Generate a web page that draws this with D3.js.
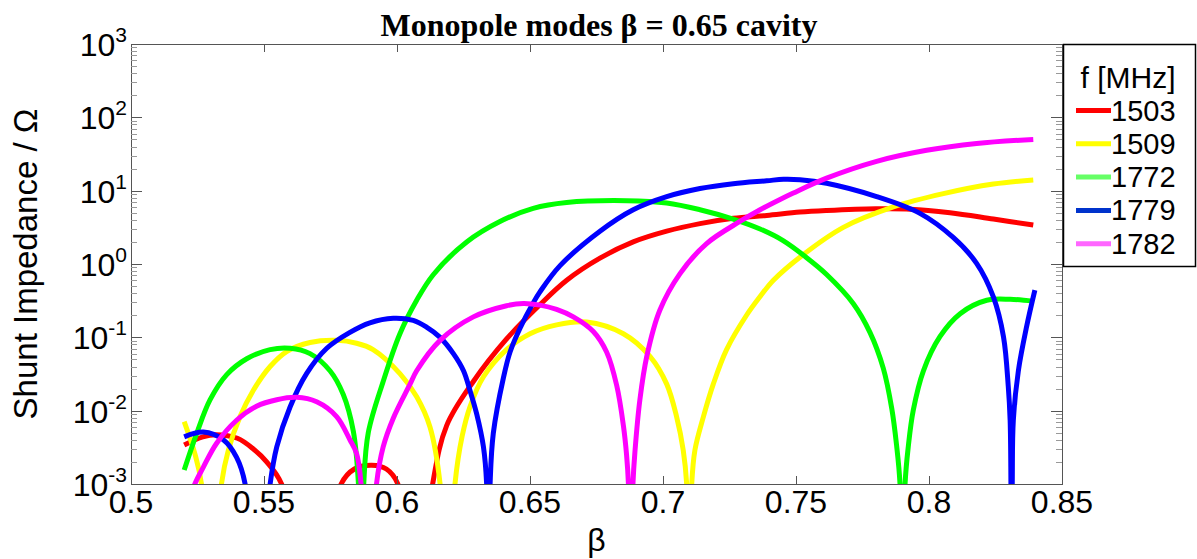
<!DOCTYPE html>
<html>
<head>
<meta charset="utf-8">
<script src="https://cdn.jsdelivr.net/npm/d3@7"></script>
<style>
  body { margin: 0; background: #fff; }
  svg { display: block; }
  text { font-family: "Liberation Sans", Arial, sans-serif; fill: #000; }
</style>
</head>
<body>
<svg id="chart" width="1197" height="559"></svg>
<script>
// Shunt impedance of the monopole modes vs. particle velocity β
const xTicks = [0.5, 0.55, 0.6, 0.65, 0.7, 0.75, 0.8, 0.85];
const xTickLabels = ["0.5", "0.55", "0.6", "0.65", "0.7", "0.75", "0.8", "0.85"];
const yExponents = [-3, -2, -1, 0, 1, 2, 3];

const frequencies = ["1503", "1509", "1772", "1779", "1782"];
const lineColors = ["#ff0000", "#ffff00", "#00ff00", "#0000ff", "#ff00ff"];
const legendColors = ["#ff0000", "#ffff00", "#66ff66", "#0033cc", "#ff66ff"];

// 1503 MHz
const beta1503 = [0.520, 0.527, 0.532, 0.540, 0.546, 0.551, 0.5566, 0.568, 0.579, 0.584, 0.5905, 0.596, 0.6003, 0.607, 0.6134, 0.6187, 0.6287, 0.6412, 0.6538, 0.6638, 0.6763, 0.6888, 0.7014, 0.7139, 0.7264, 0.739, 0.7515, 0.7615, 0.780, 0.793, 0.8079, 0.8242, 0.8392];
const r1503 = [0.0034, 0.0044, 0.0047, 0.0042, 0.0030, 0.0020, 0.0010, 0.00001, 0.0010, 0.0016, 0.0018, 0.0016, 0.0010, 0.00001, 0.0010, 0.0063, 0.025, 0.095, 0.28, 0.60, 1.20, 2.0, 2.8, 3.55, 4.2, 4.6, 5.1, 5.35, 5.65, 5.6, 5.0, 4.1, 3.4];

// 1509 MHz
const beta1509 = [0.520, 0.524, 0.5265, 0.530, 0.534, 0.5366, 0.541, 0.546, 0.5523, 0.5585, 0.5673, 0.5773, 0.5848, 0.591, 0.6011, 0.6074, 0.6124, 0.6162, 0.619, 0.6218, 0.6245, 0.6274, 0.6325, 0.6412, 0.650, 0.660, 0.6713, 0.6851, 0.6951, 0.7014, 0.7051, 0.7076, 0.7089, 0.7098, 0.7108, 0.712, 0.7152, 0.7189, 0.7239, 0.7314, 0.7365, 0.7415, 0.7528, 0.7678, 0.7866, 0.8054, 0.8242, 0.8392];
const r1509 = [0.0071, 0.0026, 0.0010, 0.00001, 0.0010, 0.0029, 0.0083, 0.019, 0.040, 0.064, 0.085, 0.091, 0.083, 0.068, 0.032, 0.0155, 0.0060, 0.0010, 0.00001, 0.0010, 0.0045, 0.0112, 0.029, 0.068, 0.112, 0.148, 0.162, 0.112, 0.055, 0.023, 0.0083, 0.0029, 0.0010, 0.00001, 0.0010, 0.0029, 0.0083, 0.023, 0.068, 0.20, 0.36, 0.60, 1.35, 3.16, 6.0, 9.1, 12.3, 14.0];

// 1772 MHz
const beta1772 = [0.520, 0.5247, 0.5297, 0.536, 0.5435, 0.5523, 0.5598, 0.5673, 0.5748, 0.5798, 0.5836, 0.5855, 0.5865, 0.5875, 0.5892, 0.5948, 0.6011, 0.6074, 0.6137, 0.6262, 0.6387, 0.6512, 0.6638, 0.6863, 0.7014, 0.7139, 0.7264, 0.7365, 0.745, 0.7535, 0.7615, 0.7715, 0.7778, 0.7828, 0.786, 0.7878, 0.7891, 0.790, 0.791, 0.7922, 0.7941, 0.7979, 0.8041, 0.8117, 0.8217, 0.8305, 0.8392];
const r1772 = [0.00155, 0.0049, 0.014, 0.031, 0.051, 0.068, 0.071, 0.060, 0.035, 0.0166, 0.0052, 0.0010, 0.00001, 0.0010, 0.0050, 0.025, 0.112, 0.32, 0.72, 2.0, 3.8, 5.75, 6.9, 7.3, 6.8, 5.5, 4.1, 3.0, 2.1, 1.26, 0.72, 0.29, 0.117, 0.038, 0.0107, 0.0034, 0.0010, 0.00001, 0.0010, 0.0032, 0.0102, 0.035, 0.102, 0.21, 0.32, 0.33, 0.31];

// 1779 MHz
const beta1779 = [0.520, 0.5272, 0.5347, 0.5397, 0.5429, 0.547, 0.5523, 0.5548, 0.5598, 0.566, 0.5736, 0.5823, 0.5898, 0.5986, 0.6061, 0.6111, 0.6162, 0.6212, 0.625, 0.6274, 0.630, 0.6325, 0.6337, 0.6343, 0.635, 0.6362, 0.640, 0.6425, 0.6462, 0.6512, 0.6538, 0.6613, 0.6763, 0.6888, 0.7014, 0.7139, 0.7264, 0.739, 0.7453, 0.7515, 0.7615, 0.7803, 0.7966, 0.8091, 0.8179, 0.8242, 0.828, 0.8298, 0.8305, 0.8308, 0.831, 0.8313, 0.8317, 0.8336, 0.8367, 0.8398];
const r1779 = [0.0044, 0.0051, 0.0040, 0.0023, 0.0010, 0.00001, 0.0010, 0.0032, 0.0112, 0.032, 0.071, 0.117, 0.158, 0.182, 0.170, 0.138, 0.100, 0.060, 0.035, 0.019, 0.0089, 0.0032, 0.0010, 0.00001, 0.0010, 0.0049, 0.028, 0.063, 0.132, 0.295, 0.42, 0.95, 2.8, 5.5, 8.3, 10.7, 12.45, 13.65, 14.3, 14.1, 12.6, 8.3, 4.9, 2.3, 1.02, 0.355, 0.102, 0.0214, 0.0074, 0.0010, 0.00001, 0.0010, 0.0074, 0.035, 0.14, 0.44];

// 1782 MHz
const beta1782 = [0.520, 0.524, 0.5272, 0.5322, 0.5397, 0.5472, 0.5548, 0.5623, 0.5698, 0.5773, 0.5823, 0.5848, 0.5865, 0.589, 0.5923, 0.5948, 0.5986, 0.6049, 0.6074, 0.6162, 0.6287, 0.6412, 0.6475, 0.6538, 0.660, 0.6663, 0.6738, 0.6788, 0.6826, 0.6851, 0.6863, 0.687, 0.6878, 0.6887, 0.6895, 0.6913, 0.6939, 0.6988, 0.7064, 0.7164, 0.7289, 0.7365, 0.744, 0.749, 0.7615, 0.7803, 0.7991, 0.8179, 0.8392];
const r1782 = [0.0004, 0.0010, 0.0017, 0.0036, 0.0074, 0.0115, 0.0141, 0.0152, 0.0132, 0.0083, 0.0040, 0.0026, 0.0010, 0.00001, 0.0010, 0.0032, 0.0079, 0.023, 0.035, 0.091, 0.19, 0.27, 0.29, 0.275, 0.24, 0.19, 0.12, 0.063, 0.022, 0.0063, 0.0025, 0.0010, 0.00001, 0.0010, 0.0029, 0.014, 0.055, 0.234, 0.74, 1.9, 3.8, 5.5, 7.6, 9.3, 14.8, 25.1, 35.5, 44, 50];

const betas = [beta1503, beta1509, beta1772, beta1779, beta1782];
const impedances = [r1503, r1509, r1772, r1779, r1782];

const plot = { left: 131, right: 1062, top: 44, bottom: 484 };
const svg = d3.select("#chart");

const x = d3.scaleLinear().domain([0.5, 0.85]).range([plot.left, plot.right]);
const y = d3.scaleLog().domain([1e-3, 1e3]).range([plot.bottom, plot.top]);

svg.append("rect").attr("width", 1197).attr("height", 559).attr("fill", "#fff");

svg.append("defs").append("clipPath").attr("id", "plotClip")
  .append("rect")
  .attr("x", plot.left).attr("y", plot.top)
  .attr("width", plot.right - plot.left).attr("height", plot.bottom - plot.top);

// curves (values below the axis floor are clipped away)
const line = d3.line()
  .x(d => x(d[0]))
  .y(d => y(d[1]))
  .curve(d3.curveCatmullRom.alpha(0.5));

const curves = svg.append("g").attr("clip-path", "url(#plotClip)");
frequencies.forEach((f, i) => {
  const pts = betas[i].map((b, k) => [b, impedances[i][k]]);
  curves.append("path")
    .datum(pts)
    .attr("d", line)
    .attr("fill", "none")
    .attr("stroke", lineColors[i])
    .attr("stroke-width", 5)
    .attr("stroke-linejoin", "round");
});

// axes box and ticks
const axisColor = "#555";
const minorColor = "#999";
const axes = svg.append("g").attr("shape-rendering", "crispEdges");

axes.append("rect")
  .attr("x", plot.left).attr("y", plot.top)
  .attr("width", plot.right - plot.left).attr("height", plot.bottom - plot.top)
  .attr("fill", "none").attr("stroke", axisColor).attr("stroke-width", 1);

xTicks.forEach(t => {
  const px = Math.round(x(t));
  axes.append("line").attr("x1", px).attr("x2", px)
    .attr("y1", plot.bottom).attr("y2", plot.bottom - 8).attr("stroke", axisColor);
  axes.append("line").attr("x1", px).attr("x2", px)
    .attr("y1", plot.top).attr("y2", plot.top + 8).attr("stroke", axisColor);
});

yExponents.forEach(e => {
  const py = Math.round(y(Math.pow(10, e)));
  [[plot.left, 1], [plot.right, -1]].forEach(([ax, dir]) => {
    axes.append("line").attr("x1", ax).attr("x2", ax + dir * 11)
      .attr("y1", py).attr("y2", py).attr("stroke", axisColor);
  });
  if (e < 3) {
    for (let m = 2; m <= 9; m++) {
      const my = Math.round(y(m * Math.pow(10, e)));
      [[plot.left, 1], [plot.right, -1]].forEach(([ax, dir]) => {
        axes.append("line").attr("x1", ax).attr("x2", ax + dir * 6)
          .attr("y1", my).attr("y2", my).attr("stroke", minorColor);
      });
    }
  }
});

// tick labels
xTicks.forEach((t, i) => {
  svg.append("text")
    .attr("x", x(t)).attr("y", 513)
    .attr("text-anchor", "middle")
    .style("font-size", "32px")
    .text(xTickLabels[i]);
});

yExponents.forEach(e => {
  const py = y(Math.pow(10, e));
  const t = svg.append("text")
    .attr("x", 127).attr("y", py + 12)
    .attr("text-anchor", "end")
    .style("font-size", "32px");
  t.append("tspan").text("10");
  t.append("tspan").attr("dy", -14).style("font-size", "21px").text(String(e));
});

// axis titles
svg.append("text")
  .attr("x", x(0.675)).attr("y", 551)
  .attr("text-anchor", "middle")
  .style("font-size", "32px")
  .text("β");

svg.append("text")
  .attr("transform", `translate(37,${(plot.top + plot.bottom) / 2}) rotate(-90)`)
  .attr("text-anchor", "middle")
  .style("font-size", "33px")
  .text("Shunt Impedance / Ω");

svg.append("text")
  .attr("x", 599).attr("y", 36)
  .attr("text-anchor", "middle")
  .style("font-family", "'Liberation Serif', 'Times New Roman', serif")
  .style("font-weight", "bold")
  .style("font-size", "32px")
  .text("Monopole modes β = 0.65 cavity");

// legend
const legend = svg.append("g");
legend.append("rect")
  .attr("x", 1063.5).attr("y", 44.5).attr("width", 132).attr("height", 222)
  .attr("fill", "#fff").attr("stroke", "#000").attr("stroke-width", 1.5);
legend.append("text")
  .attr("x", 1128).attr("y", 88)
  .attr("text-anchor", "middle")
  .style("font-size", "30px")
  .text("f [MHz]");
frequencies.forEach((f, i) => {
  const ly = 110.5 + i * 33.3;
  legend.append("line")
    .attr("x1", 1076).attr("x2", 1111).attr("y1", ly).attr("y2", ly)
    .attr("stroke", legendColors[i]).attr("stroke-width", 5);
  legend.append("text")
    .attr("x", 1111).attr("y", ly + 10)
    .style("font-size", "29px")
    .text(f);
});
</script>
</body>
</html>
